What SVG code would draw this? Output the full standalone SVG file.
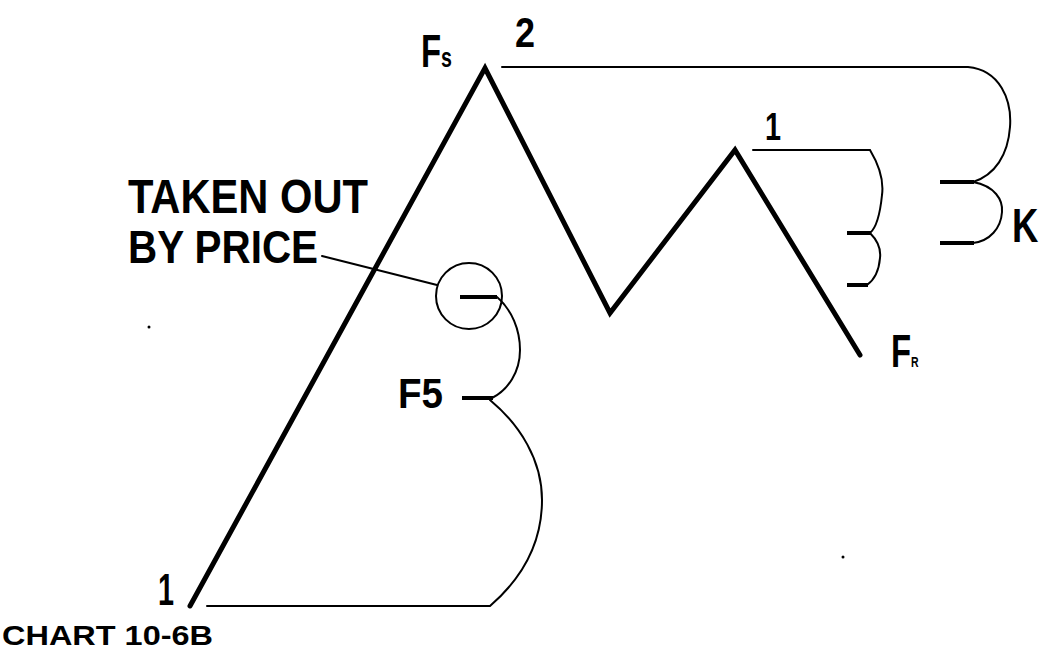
<svg xmlns="http://www.w3.org/2000/svg" width="1043" height="653" viewBox="0 0 1043 653">
<style>
.t{font-family:"Liberation Sans",Arial,sans-serif;font-weight:bold;fill:#000}
.thin{fill:none;stroke:#000;stroke-width:2;stroke-linecap:round}
.dash{fill:none;stroke:#000;stroke-width:4;stroke-linecap:butt}
.zig{fill:none;stroke:#000;stroke-width:5;stroke-linejoin:miter;stroke-linecap:round}
</style>
<rect width="1043" height="653" fill="#fff"/>
<g id="price">
<polyline class="zig" points="190,606 485,68 610,313 735,150 860,355"/>
</g>
<g id="connectors">
<path class="thin" d="M502,67 H968 C1000,70 1012,100 1010,127 C1008,155 995,175 973,182"/>
<path class="thin" d="M973,182 C995,186 1003,200 1002,212 C1001,228 990,241 973,243"/>
<path class="dash" d="M940,182 H974 M940,243 H974"/>
<path class="thin" d="M753,150 H870 C879,165 884,180 882,195 C880,215 876,228 870,233"/>
<path class="thin" d="M870,233 C878,241 881,250 880,258 C879,270 874,280 867,285"/>
<path class="dash" d="M847,233 H871 M847,285 H868"/>
<circle class="thin" cx="469" cy="296" r="33"/>
<path class="dash" d="M460,297 H497 M462,398 H493"/>
<path class="thin" d="M497,297 C512,310 520,330 520,350 C520,372 508,390 492,398"/>
<path class="thin" d="M490,400 C520,425 542,460 542,500 C542,545 520,580 490,606 H207"/>
<path class="thin" d="M322,256 L437,285"/>
<circle cx="149" cy="327" r="1.5" fill="#000"/>
<circle cx="843" cy="557" r="1.5" fill="#000"/>
</g>
<g id="labels">
<text class="t" x="128" y="213" font-size="48" textLength="240" lengthAdjust="spacingAndGlyphs">TAKEN OUT</text>
<text class="t" x="128" y="263" font-size="46" textLength="190" lengthAdjust="spacingAndGlyphs">BY PRICE</text>
<text class="t" x="398" y="408" font-size="43" textLength="45" lengthAdjust="spacingAndGlyphs">F5</text>
<text class="t" x="515" y="47" font-size="42" textLength="20" lengthAdjust="spacingAndGlyphs">2</text>
<text class="t" x="765" y="140" font-size="38" textLength="16" lengthAdjust="spacingAndGlyphs">1</text>
<text class="t" x="158" y="605" font-size="44" textLength="16" lengthAdjust="spacingAndGlyphs">1</text>
<text class="t" font-size="48" transform="translate(1012,242) scale(0.76,1)">K</text>
<text class="t" font-size="47" transform="translate(421,67) scale(0.7,1)">F<tspan font-size="28">s</tspan></text>
<text class="t" font-size="47" transform="translate(891,367) scale(0.7,1)">F<tspan font-size="15">R</tspan></text>
<text class="t" x="2" y="645" font-size="28" textLength="211" lengthAdjust="spacingAndGlyphs">CHART 10-6B</text>
</g>
</svg>
